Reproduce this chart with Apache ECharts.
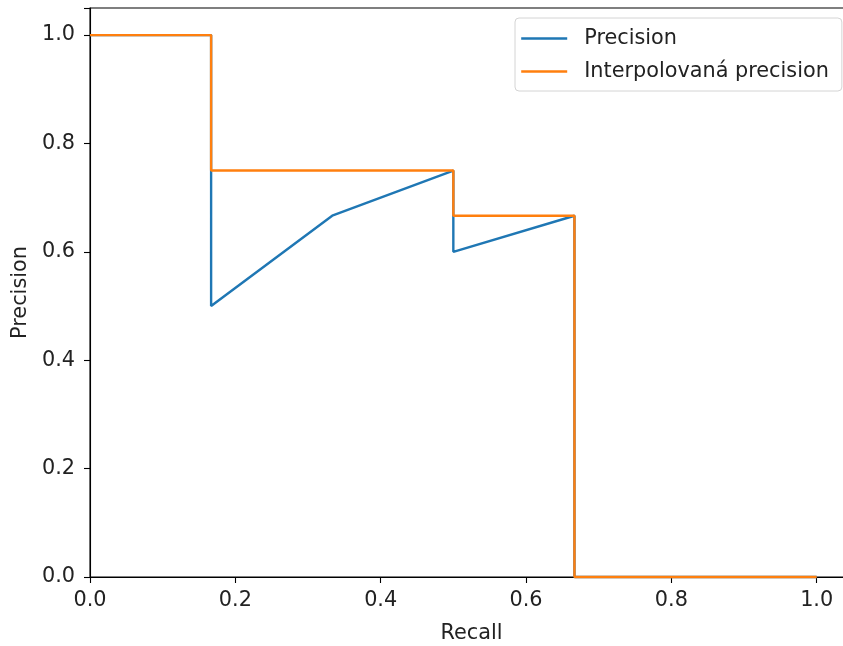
<!DOCTYPE html>
<html>
<head>
<meta charset="utf-8">
<script src="https://cdn.jsdelivr.net/npm/echarts@6/dist/echarts.min.js"></script>
<style>
html,body{margin:0;padding:0;background:#fff;}
#chart{width:843px;height:646px;}
</style>
</head>
<body>
<div id="chart"></div>
<script>
const recall = [0, 1/6, 1/6, 1/3, 1/2, 1/2, 2/3, 2/3, 1];
const precision = [1, 1, 0.5, 2/3, 0.75, 0.6, 2/3, 0, 0];
const interpRecall = [0, 1/6, 1/6, 1/2, 1/2, 2/3, 2/3, 1];
const interpPrecision = [1, 1, 0.75, 0.75, 2/3, 2/3, 0, 0];
const seriesNames = ['Precision', 'Interpolovaná precision'];
const xTitle = 'Recall';
const yTitle = 'Precision';

const font = 'DejaVu Sans';
const fs = 20.8;
const chart = echarts.init(document.getElementById('chart'));
const toPairs = (xs, ys) => xs.map((x, i) => [x, ys[i]]);
const axisCommon = {
  type: 'value',
  min: 0,
  max: 1.05,
  interval: 0.2,
  axisLine: {show: true, onZero: false, lineStyle: {color: '#000', width: 1.1}},
  axisTick: {show: true, length: 6, lineStyle: {color: '#000', width: 1.1}},
  splitLine: {show: false},
  nameLocation: 'middle',
  nameTextStyle: {fontFamily: font, fontSize: fs, color: '#222'}
};
chart.setOption({
  animation: false,
  backgroundColor: '#fff',
  grid: {left: 90, top: 8, width: 763, height: 569, show: true, borderColor: '#000', borderWidth: 1.1,
    backgroundColor: 'transparent', containLabel: false, outerBoundsMode: 'none'},
  xAxis: Object.assign({}, axisCommon, {
    name: xTitle, nameGap: 46,
    axisLabel: {margin: 13, fontFamily: font, fontSize: fs, color: '#222',
      formatter: v => (v > 1.01 ? '' : v.toFixed(1))}
  }),
  yAxis: Object.assign({}, axisCommon, {
    name: yTitle, nameGap: 57,
    axisLabel: {margin: 15, fontFamily: font, fontSize: fs, color: '#222',
      formatter: v => (v > 1.01 ? '' : v.toFixed(1))}
  }),
  legend: {
    show: true,
    orient: 'vertical',
    left: 515, top: 18,
    padding: [10, 13, 9, 5],
    itemGap: 12,
    itemWidth: 46, itemHeight: 20,
    itemStyle: {opacity: 0},
    lineStyle: {width: 2.4},
    backgroundColor: '#fff',
    borderColor: '#d4d4d4', borderWidth: 1, borderRadius: 4,
    textStyle: {fontFamily: font, fontSize: fs, color: '#222', padding: [2, 0, 0, 12]},
    data: seriesNames
  },
  series: [
    {name: seriesNames[0], type: 'line', data: toPairs(recall, precision), symbol: 'none', clip: false,
      color: '#1f77b4', lineStyle: {color: '#1f77b4', width: 2.4}},
    {name: seriesNames[1], type: 'line', data: toPairs(interpRecall, interpPrecision), symbol: 'none', clip: false,
      color: '#ff7f0e', lineStyle: {color: '#ff7f0e', width: 2.4}}
  ]
});
</script>
</body>
</html>
